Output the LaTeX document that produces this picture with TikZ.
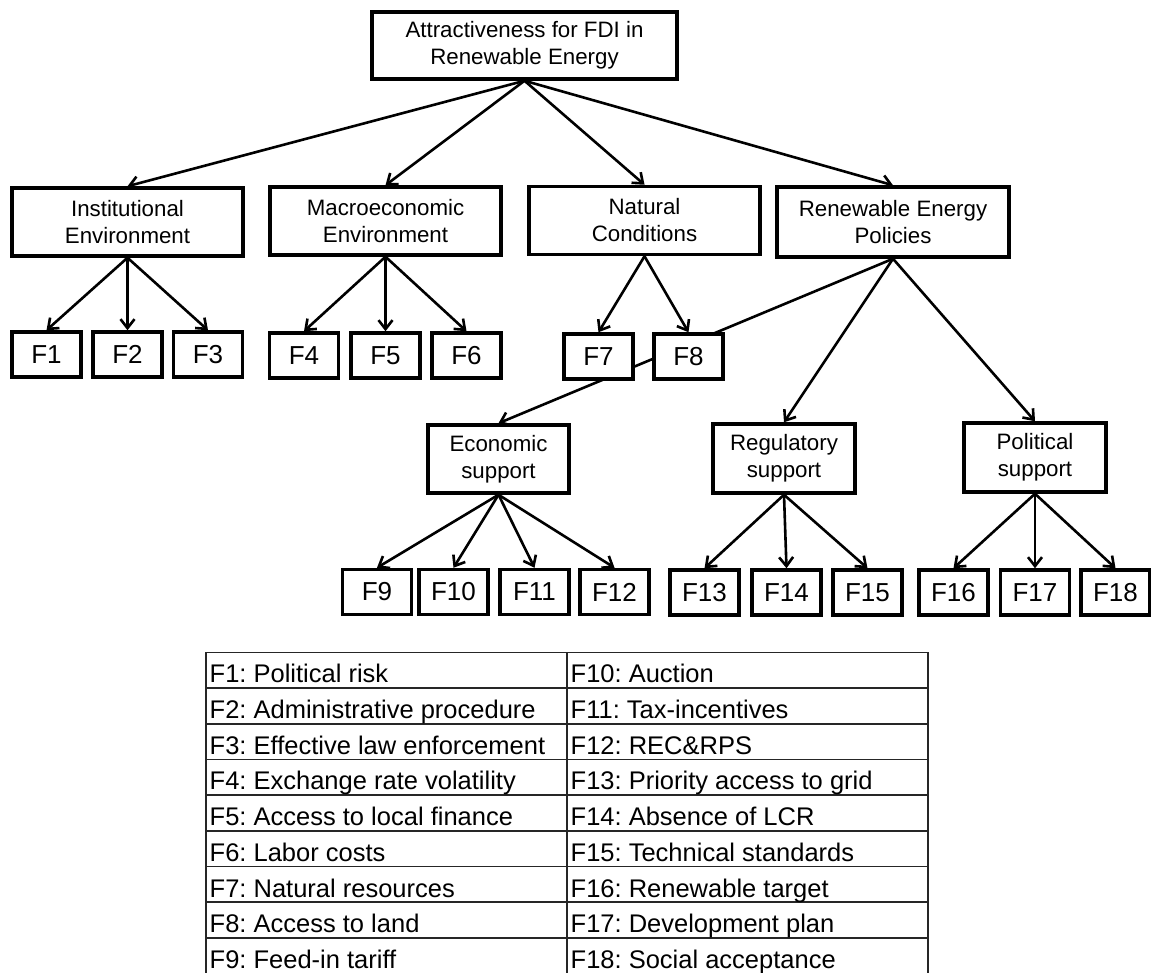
\documentclass[tikz,border=0pt]{standalone}
\usepackage{fontspec}
\setmainfont{Liberation Sans}
\frenchspacing
\usetikzlibrary{arrows.meta,backgrounds}
\tikzset{
  catbox/.style={draw, line width=3.5pt, fill=white, align=center, inner sep=0pt,
    font=\fontsize{22.3}{27}\selectfont},
  fbox/.style={draw, line width=3.5pt, fill=white, inner sep=0pt,
    minimum width=69pt, minimum height=45pt, font=\fontsize{26}{30}\selectfont},
  conn/.style={line width=2.6pt, -{Straight Barb[length=9pt,width=14pt]}},
  tline/.style={line width=1.6pt, black!85},
  ttext/.style={anchor=base west, inner sep=0pt, font=\fontsize{25.5}{30}\selectfont},
}
\begin{document}
\begin{tikzpicture}[x=1pt,y=-1pt]
\useasboundingbox (0,0) rectangle (1151,972);

% top
\node[catbox, minimum width=305pt, minimum height=67pt] (top) at (524.5,45.5) {Attractiveness for FDI in\\Renewable Energy};
% categories
\node[catbox, minimum width=231pt, minimum height=68pt] (inst) at (127.5,222) {Institutional\\Environment};
\node[catbox, minimum width=231pt, minimum height=68pt] (macro) at (385.5,221) {Macroeconomic\\Environment};
\node[catbox, minimum width=231pt, minimum height=68pt] (nat) at (644.5,220.5) {Natural\\Conditions};
\node[catbox, minimum width=232pt, minimum height=70pt] (rep) at (893,222) {Renewable Energy\\Policies};
% factors row 1
\node[fbox] (f1) at (46.5,354.5) {F1};
\node[fbox] (f2) at (127.5,354.5) {F2};
\node[fbox] (f3) at (208,354.5) {F3};
\node[fbox] (f4) at (304,355.5) {F4};
\node[fbox] (f5) at (385.5,355.5) {F5};
\node[fbox] (f6) at (466.5,355.5) {F6};
\node[fbox] (f7) at (598.5,356.5) {F7};
\node[fbox] (f8) at (688.5,356.5) {F8};
% sub categories
\node[catbox, minimum width=141pt, minimum height=68pt] (econ) at (498.5,459) {Economic\\support};
\node[catbox, minimum width=142pt, minimum height=69pt] (reg) at (784,458.5) {Regulatory\\support};
\node[catbox, minimum width=142pt, minimum height=69pt] (pol) at (1035,457.5) {Political\\support};
% factors row 2
\node[fbox] (f9) at (377,592) {F9};
\node[fbox] (f10) at (453.5,592) {F10};
\node[fbox] (f11) at (534.5,592) {F11};
\node[fbox] (f12) at (614.5,592) {F12};
\node[fbox] (f13) at (704.5,592.5) {F13};
\node[fbox] (f14) at (786.5,592.5) {F14};
\node[fbox] (f15) at (867.5,592.5) {F15};
\node[fbox] (f16) at (953.5,592.5) {F16};
\node[fbox] (f17) at (1035,592.5) {F17};
\node[fbox] (f18) at (1115.5,592.5) {F18};

\begin{pgfonlayer}{background}
\foreach \c in {inst,macro,nat,rep} \draw[conn] (top.south) -- (\c.north);
\foreach \c in {f1,f2,f3} \draw[conn] (inst.south) -- (\c.north);
\foreach \c in {f4,f5,f6} \draw[conn] (macro.south) -- (\c.north);
\foreach \c in {f7,f8} \draw[conn] (nat.south) -- (\c.north);
\foreach \c in {econ,reg,pol} \draw[conn] (rep.south) -- (\c.north);
\foreach \c in {f9,f10,f11,f12} \draw[conn] (econ.south) -- (\c.north);
\foreach \c in {f13,f14,f15} \draw[conn] (reg.south) -- (\c.north);
\foreach \c in {f16,f17,f18} \draw[conn] (pol.south) -- (\c.north);
\end{pgfonlayer}

% legend table
\foreach \k in {0,...,8} \draw[tline] (206,{652.3+\k*35.7}) -- (928,{652.3+\k*35.7});
\foreach \xx in {206,567,928} \draw[tline] (\xx,652.3) -- (\xx,980);
\foreach \l/\r [count=\i from 0] in {
  {F1: Political risk}/{F10: Auction},
  {F2: Administrative procedure}/{F11: Tax-incentives},
  {F3: Effective law enforcement}/{F12: REC\&RPS},
  {F4: Exchange rate volatility}/{F13: Priority access to grid},
  {F5: Access to local finance}/{F14: Absence of LCR},
  {F6: Labor costs}/{F15: Technical standards},
  {F7: Natural resources}/{F16: Renewable target},
  {F8: Access to land}/{F17: Development plan},
  {F9: Feed-in tariff}/{F18: Social acceptance}}{
  \node[ttext] (tl\i) at (209.5,{652.3+\i*35.7+30.5}) {\l};
  \node[ttext] (tr\i) at (570.5,{652.3+\i*35.7+30.5}) {\r};
}
\end{tikzpicture}
\end{document}
